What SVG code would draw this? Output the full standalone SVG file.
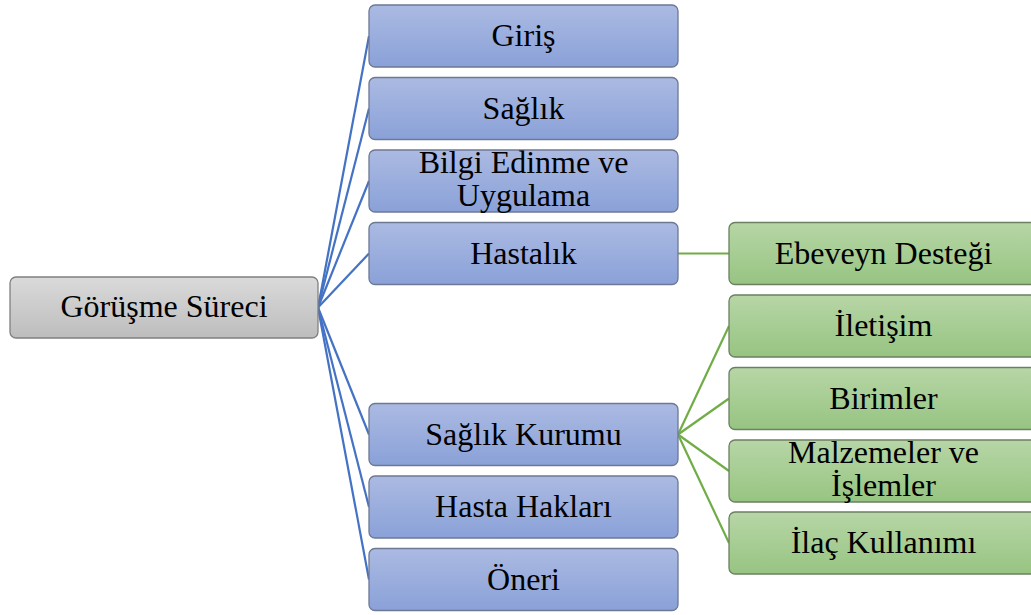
<svg xmlns="http://www.w3.org/2000/svg" width="1031" height="615" viewBox="0 0 1031 615">
  <defs>
    <linearGradient id="gGray" x1="0" y1="0" x2="0" y2="1">
      <stop offset="0" stop-color="#dadada"/>
      <stop offset="1" stop-color="#bdbdbd"/>
    </linearGradient>
    <linearGradient id="gBlue" x1="0" y1="0" x2="0" y2="1">
      <stop offset="0" stop-color="#abbae2"/>
      <stop offset="1" stop-color="#8aa1d8"/>
    </linearGradient>
    <linearGradient id="gGreen" x1="0" y1="0" x2="0" y2="1">
      <stop offset="0" stop-color="#b7d6a6"/>
      <stop offset="1" stop-color="#97c482"/>
    </linearGradient>
  </defs>
  <style>
    .root { fill: url(#gGray); stroke: #808080; stroke-width: 1.3; }
    .blue { fill: url(#gBlue); stroke: #6d7894; stroke-width: 1.3; }
    .green { fill: url(#gGreen); stroke: #6b8060; stroke-width: 1.3; }
    .lbl { font-family: "Liberation Serif", "Times New Roman", Times, serif; font-size: 32px; fill: #000; text-anchor: middle; }
    .cb { stroke: #4472c4; stroke-width: 2.2; fill: none; }
    .cg { stroke: #70ad47; stroke-width: 2.2; fill: none; }
  </style>

  <!-- connectors -->
  <g id="connectors">
    <line class="cb" x1="318" y1="307.5" x2="369" y2="36"/>
    <line class="cb" x1="318" y1="307.5" x2="369" y2="108.5"/>
    <line class="cb" x1="318" y1="307.5" x2="369" y2="181"/>
    <line class="cb" x1="318" y1="307.5" x2="369" y2="253.5"/>
    <line class="cb" x1="318" y1="307.5" x2="369" y2="434.5"/>
    <line class="cb" x1="318" y1="307.5" x2="369" y2="507"/>
    <line class="cb" x1="318" y1="307.5" x2="369" y2="579.5"/>
    <line class="cg" x1="678" y1="253.5" x2="729" y2="253.5"/>
    <line class="cg" x1="678" y1="434.5" x2="729" y2="326"/>
    <line class="cg" x1="678" y1="434.5" x2="729" y2="398.5"/>
    <line class="cg" x1="678" y1="434.5" x2="729" y2="471"/>
    <line class="cg" x1="678" y1="434.5" x2="729" y2="543"/>
  </g>

  <!-- root -->
  <g id="n-root">
    <rect class="root" x="10" y="277" width="308" height="61" rx="6"/>
    <text class="lbl" x="164" y="317">Görüşme Süreci</text>
  </g>

  <!-- first level -->
  <g id="n-giris">
    <rect class="blue" x="369" y="5" width="309" height="62" rx="6"/>
    <text class="lbl" x="523.5" y="46">Giriş</text>
  </g>
  <g id="n-saglik">
    <rect class="blue" x="369" y="77.5" width="309" height="62" rx="6"/>
    <text class="lbl" x="523.5" y="118.5">Sağlık</text>
  </g>
  <g id="n-bilgi">
    <rect class="blue" x="369" y="150" width="309" height="62" rx="6"/>
    <text class="lbl" x="523.5" y="173">Bilgi Edinme ve</text>
    <text class="lbl" x="523.5" y="206">Uygulama</text>
  </g>
  <g id="n-hastalik">
    <rect class="blue" x="369" y="222.5" width="309" height="62" rx="6"/>
    <text class="lbl" x="523.5" y="263.5">Hastalık</text>
  </g>
  <g id="n-kurum">
    <rect class="blue" x="369" y="403.5" width="309" height="62" rx="6"/>
    <text class="lbl" x="523.5" y="444.5">Sağlık Kurumu</text>
  </g>
  <g id="n-haklar">
    <rect class="blue" x="369" y="476" width="309" height="62" rx="6"/>
    <text class="lbl" x="523.5" y="517">Hasta Hakları</text>
  </g>
  <g id="n-oneri">
    <rect class="blue" x="369" y="548.5" width="309" height="62" rx="6"/>
    <text class="lbl" x="523.5" y="589.5">Öneri</text>
  </g>

  <!-- second level -->
  <g id="n-ebeveyn">
    <rect class="green" x="729" y="222.5" width="309" height="62" rx="6"/>
    <text class="lbl" x="883.5" y="263.5">Ebeveyn Desteği</text>
  </g>
  <g id="n-iletisim">
    <rect class="green" x="729" y="295" width="309" height="62" rx="6"/>
    <text class="lbl" x="883.5" y="336">İletişim</text>
  </g>
  <g id="n-birimler">
    <rect class="green" x="729" y="367.5" width="309" height="62" rx="6"/>
    <text class="lbl" x="883.5" y="408.5">Birimler</text>
  </g>
  <g id="n-malzeme">
    <rect class="green" x="729" y="440" width="309" height="62" rx="6"/>
    <text class="lbl" x="883.5" y="463">Malzemeler ve</text>
    <text class="lbl" x="883.5" y="496">İşlemler</text>
  </g>
  <g id="n-ilac">
    <rect class="green" x="729" y="512" width="309" height="62" rx="6"/>
    <text class="lbl" x="883.5" y="553">İlaç Kullanımı</text>
  </g>
</svg>
